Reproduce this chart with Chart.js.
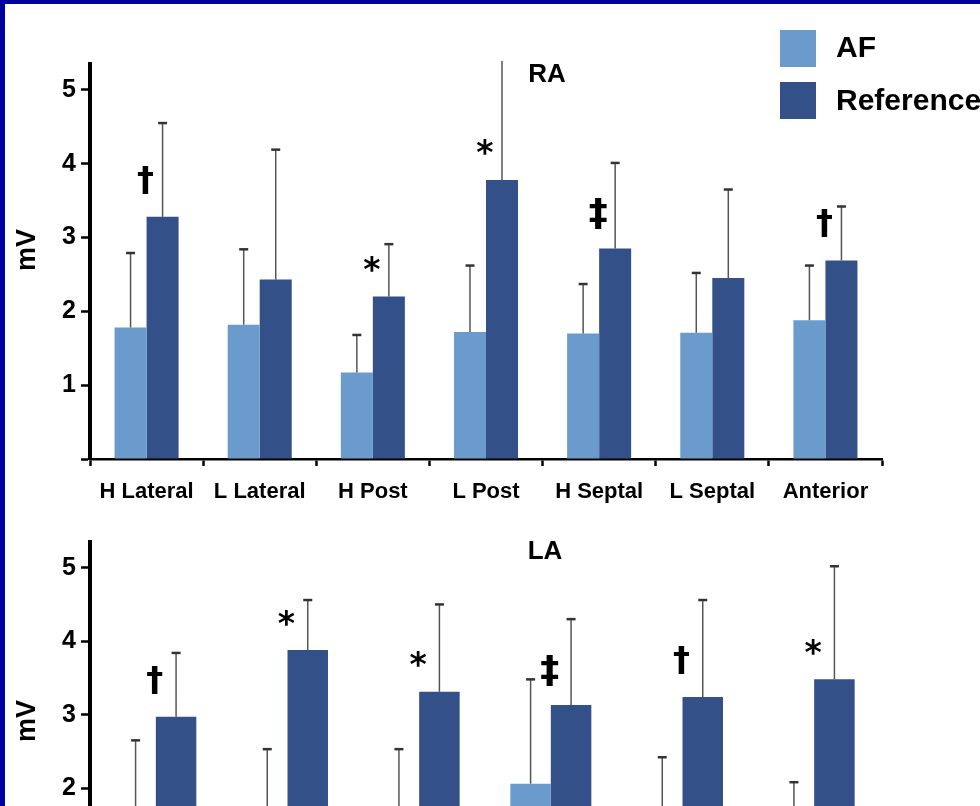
<!DOCTYPE html>
<html>
<head>
<meta charset="utf-8">
<script src="https://cdn.jsdelivr.net/npm/chart.js@4.4.1/dist/chart.umd.min.js"></script>
<style>
html,body{margin:0;padding:0;width:980px;height:806px;overflow:hidden;background:#0000A0;}
#paper{position:absolute;left:5px;top:4px;right:0;bottom:0;background:#fff;}
canvas{position:absolute;left:0;}
#c1{top:0;}
#c2{top:500px;}
.ttl{position:absolute;font:bold 26px "Liberation Sans",Arial,sans-serif;color:#000;transform:translate(-50%,-50%);white-space:nowrap;}
.sw{position:absolute;left:780px;width:36px;height:37px;}
.lg{position:absolute;left:836px;font:bold 30px "Liberation Sans",Arial,sans-serif;line-height:30px;color:#000;white-space:nowrap;}
</style>
</head>
<body>
<div id="paper"></div>
<canvas id="c1" width="980" height="520"></canvas>
<canvas id="c2" width="980" height="500"></canvas>
<div class="ttl" style="left:547px;top:73px;">RA</div>
<div class="ttl" style="left:545px;top:550px;">LA</div>
<div class="sw" id="swAF" style="top:30px;"></div>
<div class="lg" id="lgAF" style="top:32px;"></div>
<div class="sw" id="swRef" style="top:82px;"></div>
<div class="lg" id="lgRef" style="top:85px;"></div>
<script>
// ---- data ----
const seriesNames = ['AF', 'Reference'];
const yTitle = 'mV';
const yTicks = [0, 1, 2, 3, 4, 5];

const raCategories = ['H Lateral', 'L Lateral', 'H Post', 'L Post', 'H Septal', 'L Septal', 'Anterior'];
const raAF        = [1.78, 1.82, 1.17, 1.72, 1.70, 1.71, 1.88];
const raAFUpper   = [2.79, 2.84, 1.68, 2.62, 2.37, 2.52, 2.62];
const raRef       = [3.28, 2.43, 2.20, 3.78, 2.85, 2.45, 2.69];
const raRefUpper  = [4.55, 4.19, 2.91, 5.60, 4.01, 3.65, 3.42];
const raMarks     = ['†', '', '*', '*', '‡', '', '†'];

const laCategories = ['Roof', 'Posterior', 'Septal', 'Lateral', 'Anterior', 'Inferior'];
const laAF        = [1.60, 1.50, 1.55, 2.06, 1.50, 1.20];
const laAFUpper   = [2.65, 2.53, 2.53, 3.48, 2.42, 2.08];
const laRef       = [2.97, 3.88, 3.31, 3.13, 3.24, 3.48];
const laRefUpper  = [3.84, 4.56, 4.50, 4.30, 4.56, 5.02];
const laMarks     = ['†', '*', '*', '‡', '†', '*'];

// ---- styles ----
const AF_COLOR = '#6b9bcd';
const REF_COLOR = '#345088';
const FONT = '"Liberation Sans", Arial, sans-serif';
Chart.defaults.font.family = FONT;
Chart.defaults.color = '#000';

document.getElementById('swAF').style.background = AF_COLOR;
document.getElementById('swRef').style.background = REF_COLOR;
document.getElementById('lgAF').textContent = seriesNames[0];
document.getElementById('lgRef').textContent = seriesNames[1];

const overlay = {
  id: 'overlay',
  afterDatasetsDraw(chart, args, opts) {
    const ctx = chart.ctx, ys = chart.scales.y, area = chart.chartArea;
    ctx.save();
    // error bars
    opts.uppers.forEach((arr, di) => {
      const meta = chart.getDatasetMeta(di);
      meta.data.forEach((bar, i) => {
        const top = ys.getPixelForValue(arr[i]);
        const clipped = top < area.top - 3;
        const yEnd = clipped ? area.top - 3 : top;
        ctx.strokeStyle = '#555';
        ctx.lineWidth = 1.5;
        ctx.beginPath();
        ctx.moveTo(bar.x, bar.y);
        ctx.lineTo(bar.x, yEnd);
        ctx.stroke();
        if (!clipped) {
          ctx.strokeStyle = '#333';
          ctx.lineWidth = 2.5;
          ctx.beginPath();
          ctx.moveTo(bar.x - 4.5, top);
          ctx.lineTo(bar.x + 4.5, top);
          ctx.stroke();
        }
      });
    });
    // significance marks
    const refMeta = chart.getDatasetMeta(1);
    ctx.fillStyle = '#000';
    ctx.textAlign = 'center';
    ctx.textBaseline = 'middle';
    opts.marks.forEach((m, i) => {
      if (!m) return;
      const bar = refMeta.data[i];
      const left = bar.x - bar.width / 2;
      let off = 35, size = 34;
      if (m === '*') { off = 24; size = 33; }
      if (m === '‡') { off = 33; size = 38; }
      ctx.font = 'bold ' + size + 'px "DejaVu Sans", sans-serif';
      ctx.fillText(m, left - 1, bar.y - off);
    });
    // y title
    ctx.translate(28, opts.titleY);
    ctx.rotate(-Math.PI / 2);
    ctx.font = 'bold 27px ' + FONT;
    ctx.fillText(yTitle, 0, 0);
    ctx.restore();
  }
};

function makeChart(id, cats, af, afUp, ref, refUp, marks, o) {
  return new Chart(document.getElementById(id), {
    type: 'bar',
    data: {
      labels: cats,
      datasets: [
        { label: seriesNames[0], data: af, backgroundColor: AF_COLOR, borderWidth: 0, barPercentage: 1, categoryPercentage: o.catPct },
        { label: seriesNames[1], data: ref, backgroundColor: REF_COLOR, borderWidth: 0, barPercentage: 1, categoryPercentage: o.catPct }
      ]
    },
    options: {
      responsive: false,
      animation: false,
      devicePixelRatio: 1,
      layout: { padding: { left: 0, right: o.padRight, top: o.padTop, bottom: 0 } },
      plugins: {
        legend: { display: false },
        tooltip: { enabled: false },
        overlay: { uppers: [afUp, refUp], marks: marks, titleY: o.titleY }
      },
      scales: {
        x: {
          grid: { display: true, drawOnChartArea: false, drawTicks: true, tickLength: 7, tickWidth: 2.5, tickColor: '#000', offset: true },
          border: { display: true, color: '#000', width: 2.5 },
          ticks: { color: '#000', font: { size: 22, weight: 'bold' }, padding: 13, maxRotation: 0, autoSkip: false },
          afterFit(s) { s.height = o.xHeight; }
        },
        y: {
          min: 0,
          max: 5.35,
          afterBuildTicks(s) { s.ticks = yTicks.map(v => ({ value: v })); },
          grid: { display: true, drawOnChartArea: false, drawTicks: true, tickLength: 9, tickWidth: 2.5, tickColor: '#000' },
          border: { display: true, color: '#000', width: 4 },
          ticks: { color: '#000', font: { size: 25, weight: 'bold' }, padding: 5, callback: v => (v === 0 ? '' : v) },
          afterFit(s) { s.width = 90; }
        }
      }
    },
    plugins: [overlay]
  });
}

makeChart('c1', raCategories, raAF, raAFUpper, raRef, raRefUpper, raMarks,
  { catPct: 0.566, padRight: 98, padTop: 64, xHeight: 61, titleY: 250 });
makeChart('c2', laCategories, laAF, laAFUpper, laRef, laRefUpper, laMarks,
  { catPct: 0.615, padRight: 100, padTop: 42, xHeight: 65, titleY: 221 });
</script>
</body>
</html>
